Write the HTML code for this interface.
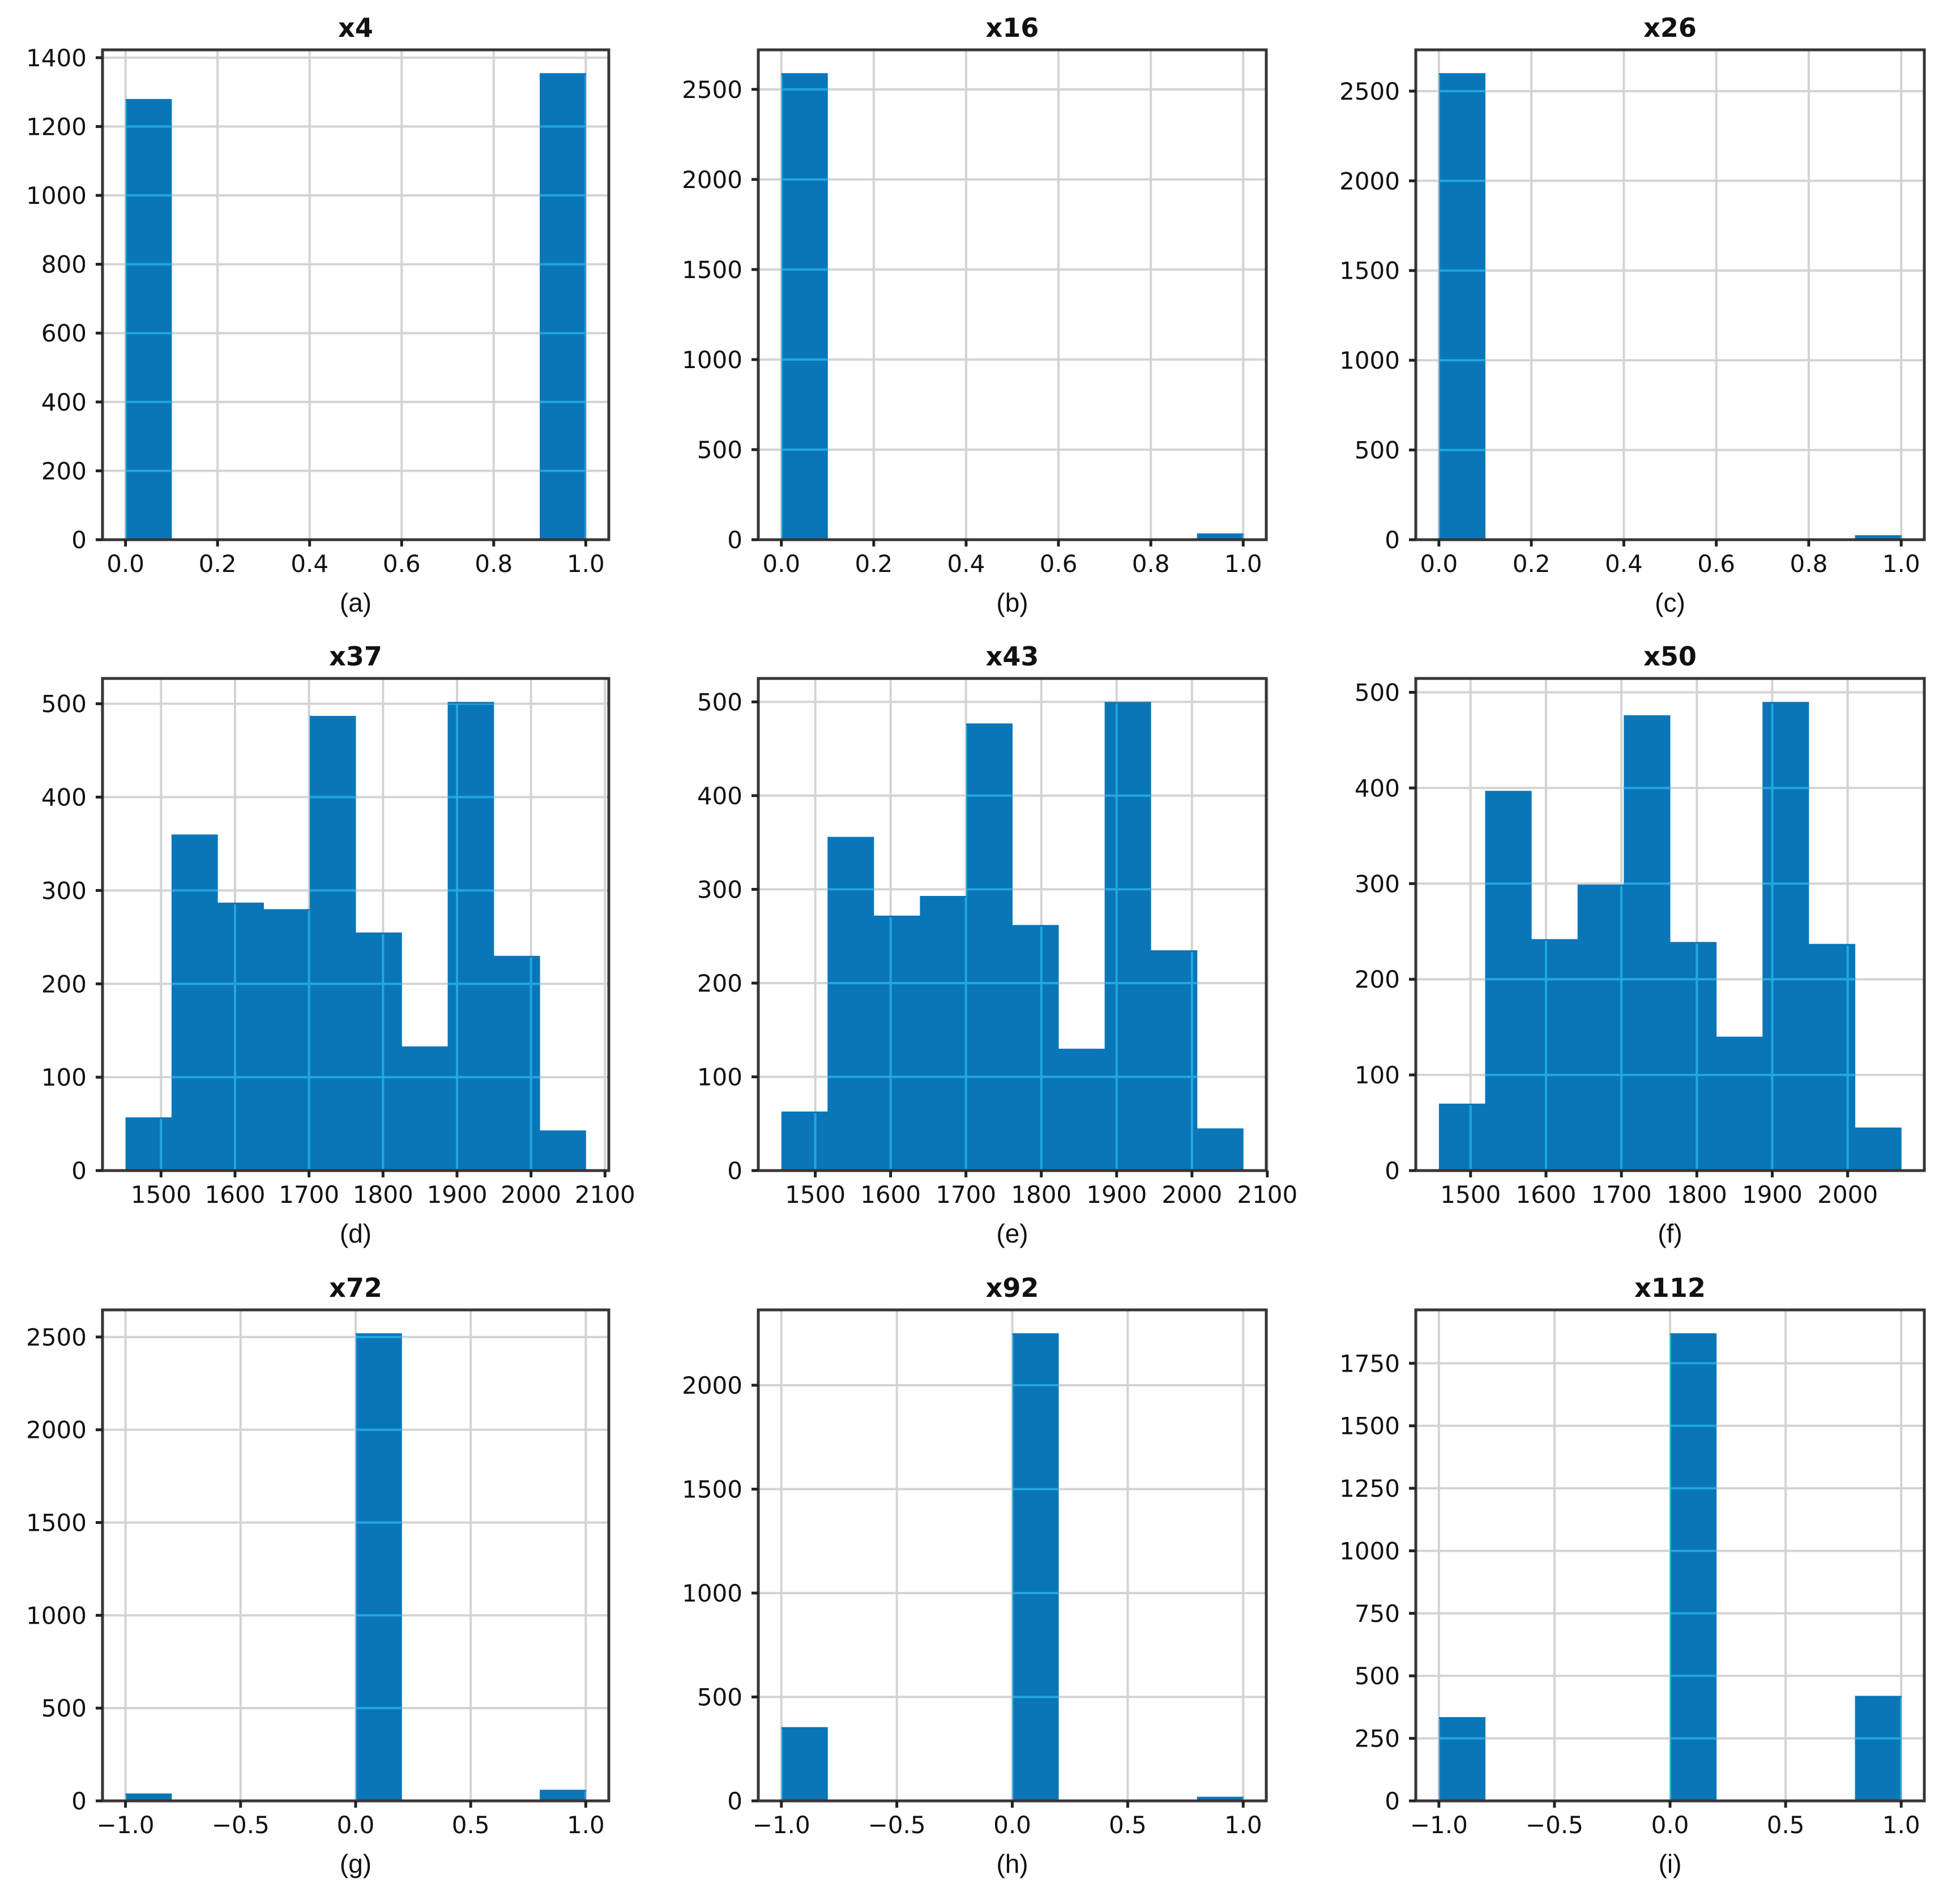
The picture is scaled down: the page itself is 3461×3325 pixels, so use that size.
<!DOCTYPE html>
<html><head><meta charset="utf-8"><style>
html,body{margin:0;padding:0;background:#fff}
svg{display:block}
text{font-family:"DejaVu Sans","Liberation Sans",sans-serif;fill:#111}
</style></head><body>
<svg id="fig" xmlns="http://www.w3.org/2000/svg" width="3461" height="3325" viewBox="0 0 3461 3325"></svg>
<script>
const titles = ["x4","x16","x26","x37","x43","x50","x72","x92","x112"];
const letters = ["(a)","(b)","(c)","(d)","(e)","(f)","(g)","(h)","(i)"];
const dataMin = [0,0,0,1452,1455,1458,-1,-1,-1];
const dataMax = [1,1,1,2074,2068,2071,1,1,1];
const countsA = [1280,0,0,0,0,0,0,0,0,1355];
const countsB = [2590,0,0,0,0,0,0,0,0,35];
const countsC = [2600,0,0,0,0,0,0,0,0,25];
const countsD = [57,360,287,280,487,255,133,502,230,43];
const countsE = [63,356,272,293,477,262,130,500,235,45];
const countsF = [70,397,242,299,476,239,140,490,237,45];
const countsG = [40,0,0,0,0,2520,0,0,0,60];
const countsH = [355,0,0,0,0,2250,0,0,0,20];
const countsI = [335,0,0,0,0,1870,0,0,0,420];
const yTicksA = [0,200,400,600,800,1000,1200,1400];
const yTicksBC = [0,500,1000,1500,2000,2500];
const yTicksDEF = [0,100,200,300,400,500];
const yTicksG = [0,500,1000,1500,2000,2500];
const yTicksH = [0,500,1000,1500,2000];
const yTicksI = [0,250,500,750,1000,1250,1500,1750];
const xTicksABC = ["0.0","0.2","0.4","0.6","0.8","1.0"];
const xTicksDE = ["1500","1600","1700","1800","1900","2000","2100"];
const xTicksF = ["1500","1600","1700","1800","1900","2000"];
const xTicksGHI = ["-1.0","-0.5","0.0","0.5","1.0"];

const allCounts=[countsA,countsB,countsC,countsD,countsE,countsF,countsG,countsH,countsI];
const allY=[yTicksA,yTicksBC,yTicksBC,yTicksDEF,yTicksDEF,yTicksDEF,yTicksG,yTicksH,yTicksI];
const allX=[xTicksABC,xTicksABC,xTicksABC,xTicksDE,xTicksDE,xTicksF,xTicksGHI,xTicksGHI,xTicksGHI];
const colL=[181,1339,2500], colR=[1075,2236,3398];
const rowT=[88,1198,2313], rowB=[953,2067,3180];
const NS="http://www.w3.org/2000/svg";
const svg=document.getElementById('fig');
function mk(tag,attrs,parent){const e=document.createElementNS(NS,tag);for(const k in attrs)e.setAttribute(k,attrs[k]);(parent||svg).appendChild(e);return e;}

for(let p=0;p<9;p++){
  const L=colL[p%3],R=colR[p%3],T=rowT[Math.floor(p/3)],B=rowB[Math.floor(p/3)];
  const g=mk('g',{});
  
  
  const counts=allCounts[p];
  const mn=dataMin[p],mx=dataMax[p],rng=mx-mn;
  const x0=mn-0.05*rng,x1=mx+0.05*rng;
  const ymax=1.05*Math.max(...counts);
  const X=v=>L+(v-x0)/(x1-x0)*(R-L);
  const Y=v=>B-v/ymax*(B-T);
  const yt=allY[p], xt=allX[p];
  const grid=(stroke,parent)=>{
    for(const t of yt){const l=mk('line',{x1:L,x2:R,y1:Y(t),y2:Y(t),stroke:stroke,'stroke-width':4},parent);
      
      }
    for(const s of xt){const v=parseFloat(s);const l=mk('line',{x1:X(v),x2:X(v),y1:T,y2:B,stroke:stroke,'stroke-width':4},parent);
      
      }
  };
  grid('#d6d2d2',g);
  const cid='clip'+p;
  const clip=mk('clipPath',{id:cid},g);
  const w=rng/10;
  for(let i=0;i<10;i++){
    if(counts[i]<=0)continue;
    const xa=X(mn+i*w),xb=X(mn+(i+1)*w),yy=Y(counts[i]);
    const r=mk('rect',{x:xa,y:yy,width:xb-xa+0.5,height:B-yy,fill:'#0a76b8'},g);
    
    
    mk('rect',{x:xa,y:yy+3,width:xb-xa,height:B-yy-3},clip);
  }
  const cg=mk('g',{'clip-path':'url(#'+cid+')'},g);
  grid('#22a8dc',cg);
  const fr=mk('rect',{x:L,y:T,width:R-L,height:B-T,fill:'none',stroke:'#3a3434','stroke-width':5},g);
  
  
  for(const t of yt){
    mk('line',{x1:L-12,x2:L,y1:Y(t),y2:Y(t),stroke:'#222','stroke-width':5},g);
    const tx=mk('text',{x:L-28,y:Y(t)+15,'text-anchor':'end','font-size':42},g);
    tx.textContent=String(t);
    
    
  }
  for(const s of xt){
    const v=parseFloat(s);
    mk('line',{x1:X(v),x2:X(v),y1:B,y2:B+12,stroke:'#222','stroke-width':5},g);
    const tx=mk('text',{x:X(v),y:B+57,'text-anchor':'middle','font-size':42},g);
    tx.textContent=s.replace('-','\u2212');
    
    
  }
  const tt=mk('text',{x:(L+R)/2,y:T-23,'text-anchor':'middle','font-size':46,'font-weight':'bold'},g);
  tt.textContent=titles[p];
  
  
  const lt=mk('text',{x:(L+R)/2,y:B+127,'text-anchor':'middle','font-size':46,style:'font-family:"Liberation Sans",sans-serif'},g);
  lt.textContent=letters[p];
  
  
}
</script>
</body></html>
